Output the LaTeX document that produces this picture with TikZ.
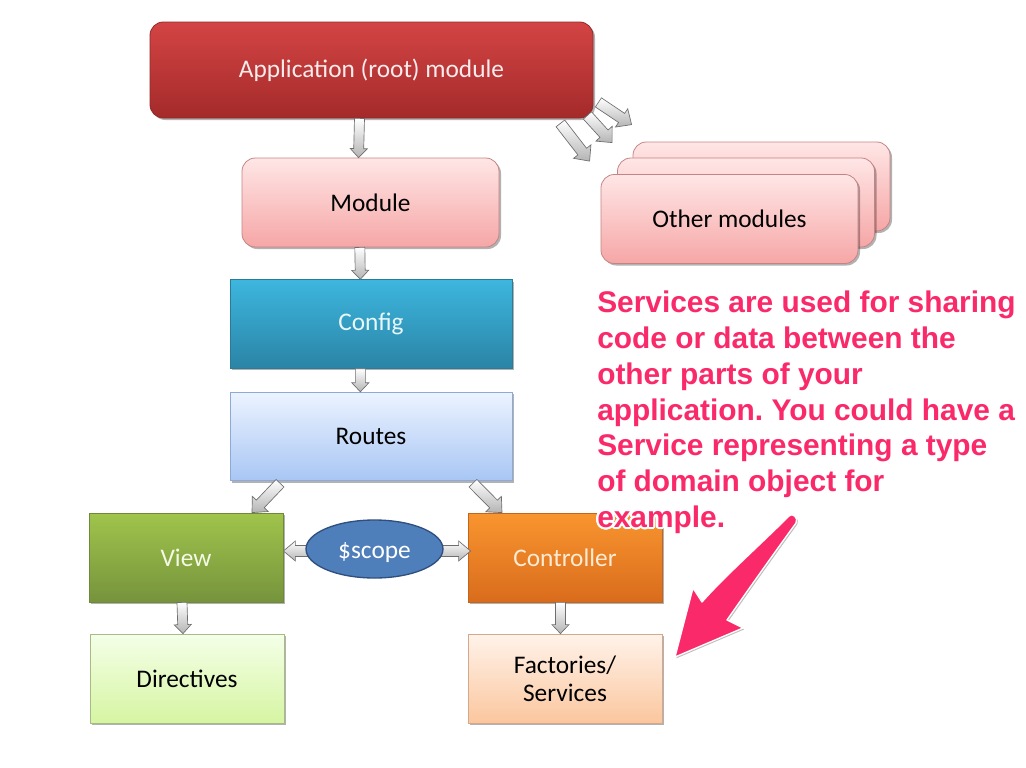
\documentclass[tikz,border=0pt]{standalone}
\usepackage{fontspec}
\setmainfont{Carlito}
\newfontfamily\annfont{Liberation Sans}
\usepackage[copies]{contour}
\contourlength{1.5pt}
\contournumber{32}
\usetikzlibrary{shapes.geometric,shadows,calc}
\frenchspacing

\definecolor{appTop}{HTML}{D44444}
\definecolor{appBot}{HTML}{A42A2A}
\definecolor{appEdge}{HTML}{8E2B2B}
\definecolor{appText}{HTML}{F8ECEC}
\definecolor{modTop}{HTML}{FFE6E6}
\definecolor{modBot}{HTML}{F6A6A6}
\definecolor{modEdge}{HTML}{C48484}
\definecolor{cfgTop}{HTML}{3DB6DE}
\definecolor{cfgBot}{HTML}{2A84A6}
\definecolor{cfgEdge}{HTML}{2A7A98}
\definecolor{cfgText}{HTML}{E8F6FA}
\definecolor{rouTop}{HTML}{ECF3FF}
\definecolor{rouBot}{HTML}{A8C6F4}
\definecolor{rouEdge}{HTML}{8EA9D6}
\definecolor{viwTop}{HTML}{A0C44C}
\definecolor{viwBot}{HTML}{76933C}
\definecolor{viwEdge}{HTML}{6E8A38}
\definecolor{viwText}{HTML}{F4FAE6}
\definecolor{ctlTop}{HTML}{F9952F}
\definecolor{ctlBot}{HTML}{D96C1C}
\definecolor{ctlEdge}{HTML}{C0661E}
\definecolor{ctlText}{HTML}{FDEBD3}
\definecolor{dirTop}{HTML}{F4FFE8}
\definecolor{dirBot}{HTML}{D6F5A2}
\definecolor{dirEdge}{HTML}{A6BC84}
\definecolor{facTop}{HTML}{FFF3EA}
\definecolor{facBot}{HTML}{FBC69E}
\definecolor{facEdge}{HTML}{D4A888}
\definecolor{scpFill}{HTML}{4F7FBB}
\definecolor{scpEdge}{HTML}{2F4F7F}
\definecolor{arrEdge}{HTML}{6E6E6E}
\definecolor{arrBot}{HTML}{B4B4B4}
\definecolor{notePink}{RGB}{250,42,106}

\tikzset{
  box/.style={inner sep=0pt, line width=0.6pt, align=center,
    font=\fontsize{19}{21}\selectfont,
    drop shadow={shadow xshift=1.5pt, shadow yshift=-1.5pt, opacity=0.3, fill=black}},
  rbox/.style={box, rounded corners=10pt},
  wide/.style={minimum width=211.5pt, minimum height=66.5pt},
  mid/.style={minimum width=192.75pt, minimum height=66.75pt},
  small/.style={minimum width=145.5pt, minimum height=66.75pt},
  varrow/.code={\def\bsw{3.75pt}\def\bhw{6.4pt}\def\bhl{6.75pt}},
  darrow/.code={\def\bsw{4.1pt}\def\bhw{8.25pt}\def\bhl{9pt}},
  sarrow/.code={\def\bsw{4.1pt}\def\bhw{7.5pt}\def\bhl{9pt}},
  barrow/.style={draw=arrEdge, line width=0.5pt, top color=white, bottom color=arrBot,
    to path={let \p1=($(\tikztotarget)-(\tikztostart)$),
                 \n1={atan2(\y1,\x1)},
                 \n2={veclen(\x1,\y1)-\bhl} in
      ($(\tikztostart)+({\n1+90}:\bsw)$)
      -- ($(\tikztostart)+(\n1:\n2)+({\n1+90}:\bsw)$)
      -- ($(\tikztostart)+(\n1:\n2)+({\n1+90}:\bhw)$)
      -- (\tikztotarget)
      -- ($(\tikztostart)+(\n1:\n2)+({\n1-90}:\bhw)$)
      -- ($(\tikztostart)+(\n1:\n2)+({\n1-90}:\bsw)$)
      -- ($(\tikztostart)+({\n1-90}:\bsw)$) -- cycle}},
  note/.style={anchor=north west, inner sep=0pt, align=left, text=notePink,
    font=\annfont\bfseries\fontsize{22.4}{26.8}\selectfont}
}
\newcommand\wh[1]{\contour{white}{#1}}

\begin{document}
\begin{tikzpicture}[x=0.75pt,y=-0.75pt]
\fill[white] (0,0) rectangle (1026,768);
\useasboundingbox (0,0) rectangle (1026,768);

% main column
\node[rbox, top color=appTop, bottom color=appBot, draw=appEdge, text=appText,
  minimum width=332.25pt, minimum height=72pt] (app) at (371.5,70) {Application (root) module};
\node[rbox, mid, top color=modTop, bottom color=modBot, draw=modEdge] (module) at (370.5,202.5) {Module};
\node[box, wide, top color=cfgTop, bottom color=cfgBot, draw=cfgEdge, text=cfgText] (config) at (371,324) {Config};
\node[box, wide, top color=rouTop, bottom color=rouBot, draw=rouEdge] (routes) at (371,436.5) {Routes};
\node[box, small, top color=viwTop, bottom color=viwBot, draw=viwEdge, text=viwText] (view) at (186,557.5) {View};
\node[box, small, top color=ctlTop, bottom color=ctlBot, draw=ctlEdge, text=ctlText] (ctrl) at (565,557.5) {Controller};
\node[box, small, top color=dirTop, bottom color=dirBot, draw=dirEdge] (dir) at (187,678.5) {Directives};
\node[box, small, top color=facTop, bottom color=facBot, draw=facEdge] (fac) at (565,678.5) {Factories/\\Services};

% other modules stack
\node[rbox, mid, top color=modTop, bottom color=modBot, draw=modEdge] (om3) at (761.5,186.5) {};
\node[rbox, mid, top color=modTop, bottom color=modBot, draw=modEdge] (om2) at (746,202.5) {};
\node[rbox, mid, top color=modTop, bottom color=modBot, draw=modEdge] (om1) at (729.5,219) {Other modules};

% block arrows
\draw[barrow,varrow] ([xshift=-9pt]app.south) to ([xshift=-9pt]module.north);
\draw[barrow,varrow] ([xshift=-8pt]module.south) to ([xshift=-8pt]config.north);
\draw[barrow,varrow] ([xshift=-8pt]config.south) to ([xshift=-8pt]routes.north);
\draw[barrow,varrow] ([xshift=-3pt]view.south) to ([xshift=-3pt]dir.north);
\draw[barrow,varrow] ([xshift=-3.4pt]ctrl.south) to ([xshift=-3.4pt]fac.north);
\draw[barrow,darrow] ([shift={(-91,2)}]routes.south) to ([shift={(66,0)}]view.north);
\draw[barrow,darrow] ([shift={(102,2)}]routes.south) to ([shift={(-63,0)}]ctrl.north);
\draw[barrow,darrow] ([shift={(5,-16)}]app.south east) to ([shift={(-1,-17)}]om3.north west);
\draw[barrow,darrow] ([shift={(-6,-3)}]app.south east) to ([shift={(-5,-15)}]om2.north west);
\draw[barrow,darrow] ([shift={(-33,5)}]app.south east) to ([shift={(-11,-13)}]om1.north west);

% $scope
\coordinate (sc) at (374.5,549);
\draw[barrow,sarrow] ([shift={(-20,2)}]sc) to ([shift={(0,-6.5)}]view.east);
\draw[barrow,sarrow] ([shift={(20,2)}]sc) to ([shift={(3,-6.5)}]ctrl.west);
\node[ellipse, draw=scpEdge, line width=1pt, fill=scpFill, text=white, inner sep=0pt,
  minimum width=102.75pt, minimum height=43.5pt, text height=18.5pt, text depth=3.8pt,
  font=\fontsize{19}{21}\selectfont]
  (scope) at (sc) {\$scope};

% annotation
\node[note] (note) at (597,291) {\wh{Services are used for sharing}\\
\wh{code or data between the}\\
\wh{other parts of your}\\
\wh{application. You could have a}\\
\wh{Service representing a type}\\
\wh{of domain object for}\\
\wh{example.}};

\fill[notePink, draw=white, line width=1pt, line join=round,
  drop shadow={shadow xshift=1pt, shadow yshift=-1pt, opacity=0.25, fill=black}]
  (789,516) .. controls (760,545) and (725,576) .. (702,602)
  -- (693,588) -- (675,657) -- (743,628) -- (727,620)
  .. controls (748,590) and (772,556) .. (796,523)
  .. controls (799,518) and (792,512) .. (789,516) -- cycle;
\end{tikzpicture}
\end{document}
